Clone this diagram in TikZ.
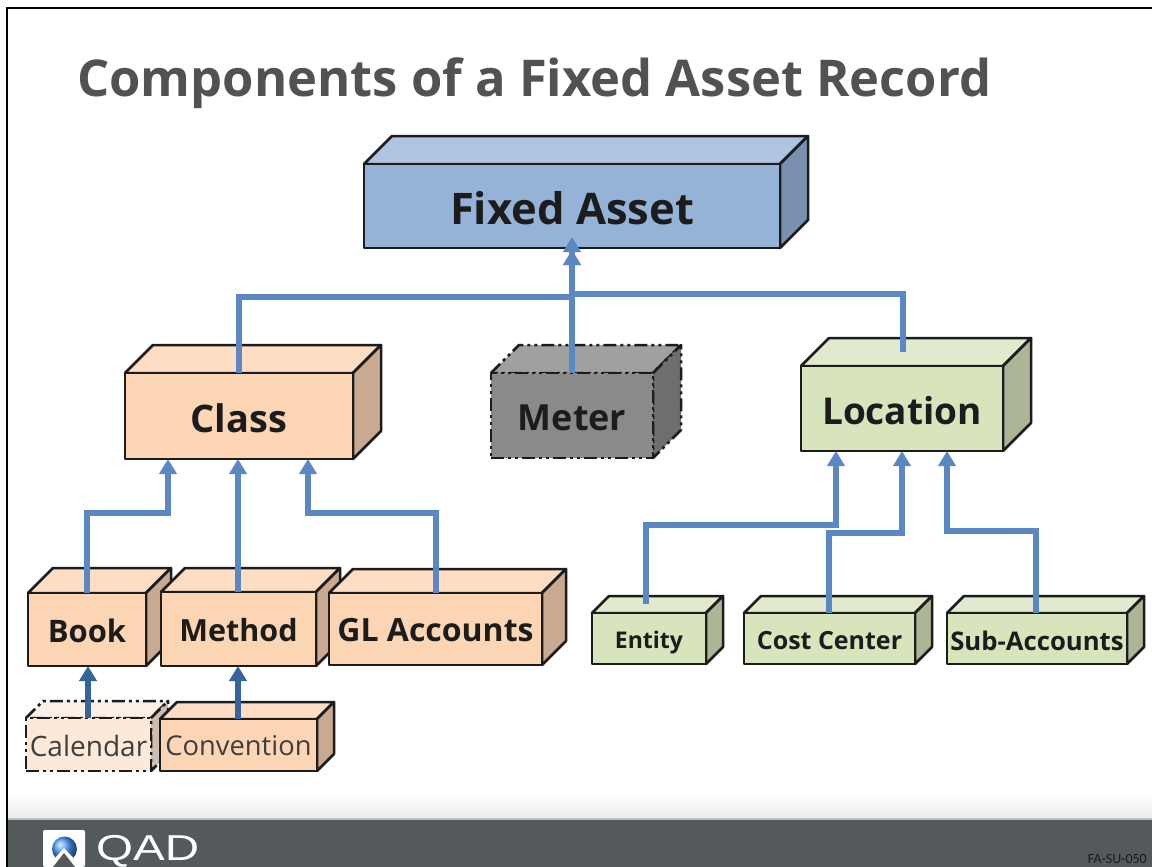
\documentclass[tikz,border=0pt]{standalone}
\usepackage{fontspec}
\setmainfont{Open Sans}
\usetikzlibrary{arrows.meta,calc}
\definecolor{conn}{HTML}{5B87C5}
\definecolor{conndark}{HTML}{36649B}
\definecolor{edge}{HTML}{1C1C1C}
\definecolor{band}{HTML}{54595C}
\definecolor{bluef}{HTML}{95B3D7}\definecolor{bluet}{HTML}{AFC4E1}\definecolor{blues}{HTML}{7A90B0}
\definecolor{peachf}{HTML}{FCD5B5}\definecolor{peacht}{HTML}{FDDDC3}\definecolor{peachs}{HTML}{C9A98F}
\definecolor{grayf}{HTML}{8A8A8A}\definecolor{grayt}{HTML}{A0A0A0}\definecolor{grays}{HTML}{6E6E6E}
\definecolor{greenf}{HTML}{D8E4BC}\definecolor{greent}{HTML}{E1EACC}\definecolor{greens}{HTML}{ACB596}
\definecolor{palef}{HTML}{FDE9D9}\definecolor{palet}{HTML}{FDF0E6}\definecolor{pales}{HTML}{CBBDB1}
% \cube{name}{x0}{y0}{x1}{y1}{depth}{colour prefix}{line style}{font}{text}
\newcommand\cube[9]{%
  \pgfmathsetmacro\cxa{#2}\pgfmathsetmacro\cya{#3}\pgfmathsetmacro\cxb{#4}\pgfmathsetmacro\cyb{#5}\pgfmathsetmacro\cd{#6}%
  \pgfmathsetmacro\cxm{(\cxa+\cxb)/2}\pgfmathsetmacro\cym{(\cya+\cyb)/2}%
  \pgfmathsetmacro\cw{\cxb-\cxa}\pgfmathsetmacro\ch{\cyb-\cya}%
  \pgfmathsetmacro\cxc{\cxa+\cd}\pgfmathsetmacro\cxe{\cxb+\cd}\pgfmathsetmacro\cyc{\cya-\cd}\pgfmathsetmacro\cye{\cyb-\cd}%
  \path[cubeline,#8,fill=#7t] (\cxa,\cya) -- (\cxc,\cyc) -- (\cxe,\cyc) -- (\cxb,\cya) -- cycle;%
  \path[cubeline,#8,fill=#7s] (\cxb,\cya) -- (\cxe,\cyc) -- (\cxe,\cye) -- (\cxb,\cyb) -- cycle;%
  \node[cubeline,#8,fill=#7f,text=edge,minimum width=\cw pt,minimum height=\ch pt,inner sep=0pt,outer sep=0pt] (#1) at (\cxm,\cym) {#9};%
}
\tikzset{
  cubeline/.style={draw=edge,line width=2.5pt,line join=round},
  dashdot/.style={dash pattern=on 13pt off 4pt on 3pt off 4pt on 3pt off 4pt},
  connector/.style={draw=conn,line width=5.5pt,-{Triangle[length=15pt,width=17pt]}},
  darkconnector/.style={draw=conndark,line width=5.5pt,-{Triangle[length=15pt,width=17pt]}},
}
\newcommand\fsz[1]{\fontsize{#1}{#1}\selectfont}
\newcommand\dn[2]{\raisebox{-#1pt}[\height][\depth]{#2}}
\begin{document}
\begin{tikzpicture}[x=1pt,y=-1pt]
\useasboundingbox (0,0) rectangle (1152,867);
\fill[white] (0,0) rectangle (1152,867);
% frame
\draw[black,line width=2pt] (7,867) -- (7,8) -- (1152,8);
% footer
\shade[top color=white,bottom color=black!8,shading angle=0] (8,795) rectangle (1152,818);
\fill[black!25] (8,818) rectangle (1152,820.5);
\fill[band] (8,820) rectangle (1152,867);
% logo
\fill[white,rounded corners=2pt] (43,867) -- (43,830) -- (85,830) -- (85,867) -- cycle;
\shade[ball color=blue!55!cyan!70!white] (64.5,849) circle (12.5);
\fill[white] (47,867) -- (64,848) -- (82,867) -- cycle;
\fill[band] (53,867) -- (64,853) -- (75,867) -- cycle;
\node[text=white,inner sep=0pt,anchor=west] (qad) at (96,851) {\fontspec{Liberation Sans}\fsz{36}\addfontfeature{FakeStretch=1.32}QAD};
\node[text=band!30!black,inner sep=0pt,anchor=east] (code) at (1147,859) {\fontspec{Carlito}\fsz{14}FA-SU-050};
% title
\node[text=black!68,inner sep=0pt,anchor=west] (title) at (77,83) {\fsz{50.7}\bfseries Components of a Fixed Asset Record};
% boxes
\cube{fa}{364}{164}{780}{248}{28}{blue}{}{\dn{2}{\fsz{43.5}\bfseries Fixed Asset}}
\cube{class}{125}{373}{353}{459}{28}{peach}{}{\dn{2}{\fsz{38}\bfseries Class}}
\cube{meter}{491}{373}{653}{458}{28}{gray}{dashdot}{\dn{2}{\fsz{36}\bfseries Meter}}
\cube{loc}{801}{366}{1003}{451}{28}{green}{}{\dn{2}{\fsz{37}\bfseries Location}}
\cube{book}{28}{593}{146}{666}{25}{peach}{}{\dn{1}{\fsz{31}\bfseries Book}}
\cube{method}{161}{592}{316}{666}{24}{peach}{}{\dn{1}{\fsz{30.5}\bfseries Method}}
\cube{gl}{329}{593}{542}{665}{24}{peach}{}{\dn{1}{\fsz{32}\bfseries GL Accounts}}
\cube{cal}{26}{718}{151}{771}{17}{pale}{dashdot}{\dn{1}{\color{edge!85}\fsz{28}Calendar}}
\cube{conv}{160}{719}{317}{771}{17}{peach}{}{\dn{1}{\color{edge!85}\fsz{27.3}Convention}}
\cube{ent}{592}{613}{706}{664}{17}{green}{}{\dn{4}{\fsz{23}\bfseries Entity}}
\cube{cost}{744}{613}{915}{664}{17}{green}{}{\dn{2}{\fsz{25}\bfseries Cost Center}}
\cube{sub}{947}{613}{1127}{664}{17}{green}{}{\dn{2}{\fsz{25.7}\bfseries Sub-Accounts}}
% connector ends
\coordinate (faTipA) at (572,237);
\coordinate (faTipB) at (572,250);
\coordinate (classTurn) at (239,297);
\coordinate (locStart) at (903,352);
\coordinate (locTurn) at (572,294);
\coordinate (classL) at (168,459);
\coordinate (classR) at (308,459);
\coordinate (bookTurn) at (168,513);
\coordinate (glTurn) at (308,513);
\coordinate (locL) at (836,451);
\coordinate (locM) at (902,451);
\coordinate (locR) at (947,451);
\coordinate (entStart) at (646,604);
\coordinate (entTurn) at (836,525);
\coordinate (costTurn) at (902,533);
\coordinate (subTurn) at (947,531);
\coordinate (costStart) at (829,613);
\coordinate (subStart) at (1036,613);
\coordinate (bookIn) at (88,666);
\coordinate (bookFrom) at (88,718);
\coordinate (methodIn) at (238,666);
\coordinate (convFrom) at (238,719);
\coordinate (classFrom) at (239,373);
\coordinate (classIn) at (238,459);
\coordinate (bookOut) at (87,593);
\coordinate (glOut) at (436,593);
% connectors
\draw[connector] (classFrom) |- (locTurn |- classTurn) -- (faTipA);
\draw[connector] (meter.north) -- (faTipB);
\draw[connector] (locStart) |- (locTurn) -- (faTipB);
\draw[connector] (bookOut) |- (bookTurn) -- (classL);
\draw[connector] (method.north -| classIn) -- (classIn);
\draw[connector] (glOut) |- (glTurn) -- (classR);
\draw[connector] (entStart) |- (entTurn) -- (locL);
\draw[connector] (costStart) |- (costTurn) -- (locM);
\draw[connector] (subStart) |- (subTurn) -- (locR);
\draw[darkconnector] (bookFrom) -- (bookIn);
\draw[darkconnector] (convFrom) -- (methodIn);
\end{tikzpicture}
\end{document}
